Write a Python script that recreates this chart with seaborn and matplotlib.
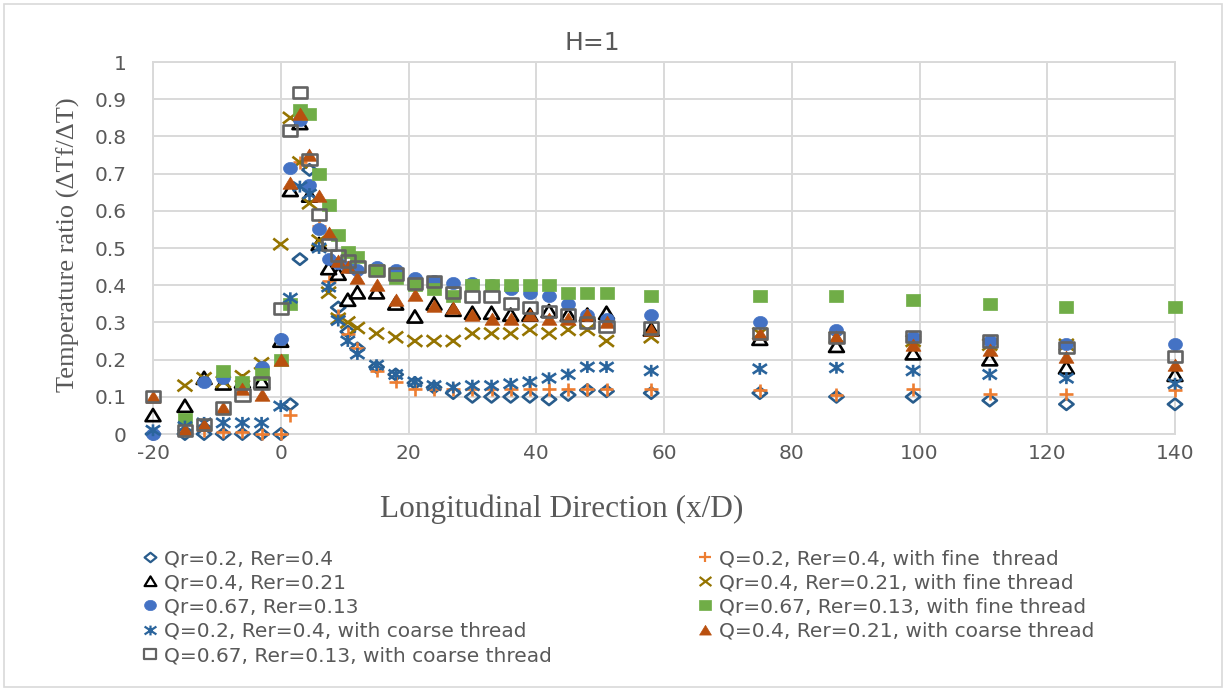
import numpy as np
import pandas as pd
import matplotlib
matplotlib.use("Agg")
import matplotlib.pyplot as plt
from matplotlib.path import Path
from matplotlib.lines import Line2D
from matplotlib.patches import Rectangle
import seaborn as sns

nan = np.nan

# ---------------- data ----------------
x_pos = [-20, -15, -12, -9, -6, -3, 0, 1.5, 3, 4.5, 6, 7.5, 9, 10.5, 12, 15, 18, 21, 24, 27,
         30, 33, 36, 39, 42, 45, 48, 51, 58, 75, 87, 99, 111, 123, 140]

qr02 = [0, 0, 0, 0, 0, 0, 0, 0.08, 0.47, 0.71, nan, nan, 0.34, 0.275, 0.23, 0.18, 0.16, 0.137, 0.125, 0.11,
        0.10, 0.10, 0.10, 0.10, 0.093, 0.105, 0.118, 0.115, 0.11, 0.11, 0.10, 0.10, 0.09, 0.08, 0.08]
q02_fine = [0, 0.01, 0.01, 0.005, 0.005, 0, 0, 0.05, 0.73, nan, 0.56, 0.41, 0.32, 0.27, 0.23, 0.17, 0.14, 0.12, 0.12, 0.12,
            0.12, 0.12, 0.12, 0.12, 0.12, 0.12, 0.12, 0.12, 0.12, 0.117, 0.106, 0.12, 0.108, 0.108, 0.117]
qr04 = [0.05, 0.075, 0.15, 0.135, 0.14, 0.14, 0.25, 0.655, 0.835, 0.64, 0.51, 0.445, 0.43, 0.36, 0.38, 0.38, 0.35, 0.315, 0.35, 0.333,
        0.325, 0.325, 0.32, 0.32, 0.33, 0.32, 0.32, 0.325, 0.28, 0.255, 0.236, 0.216, 0.20, 0.178, 0.158]
qr04_fine = [nan, 0.13, 0.15, 0.14, 0.155, 0.19, 0.51, 0.85, 0.73, 0.62, 0.52, 0.38, 0.31, 0.30, 0.285, 0.27, 0.26, 0.25, 0.25, 0.25,
             0.27, 0.27, 0.27, 0.28, 0.27, 0.28, 0.28, 0.25, 0.26, 0.27, 0.26, 0.25, 0.24, 0.24, nan]
qr067 = [0, nan, 0.14, 0.15, 0.13, 0.18, 0.255, 0.715, 0.845, 0.67, 0.55, 0.47, 0.46, 0.45, 0.44, 0.45, 0.44, 0.42, 0.41, 0.405,
         0.405, 0.40, 0.39, 0.38, 0.37, 0.35, 0.32, 0.31, 0.32, 0.30, 0.28, 0.26, 0.25, 0.243, 0.241]
qr067_fine = [nan, 0.04, nan, 0.17, 0.14, 0.16, 0.2, 0.35, 0.87, 0.86, 0.70, 0.615, 0.535, 0.49, 0.475, 0.44, 0.42, 0.40, 0.39, 0.37,
              0.40, 0.40, 0.40, 0.40, 0.40, 0.38, 0.38, 0.38, 0.37, 0.37, 0.37, 0.36, 0.35, 0.342, 0.342]
q02_coarse = [0.01, 0.02, 0.03, 0.03, 0.03, 0.03, 0.075, 0.365, 0.665, 0.645, 0.50, 0.395, 0.305, 0.25, 0.215, 0.185, 0.16, 0.14, 0.13, 0.125,
              0.13, 0.13, 0.135, 0.14, 0.15, 0.16, 0.18, 0.18, 0.17, 0.175, 0.178, 0.17, 0.16, 0.15, 0.135]
q04_coarse = [0.10, 0.01, 0.025, 0.07, 0.12, 0.105, 0.2, 0.675, 0.86, 0.75, 0.64, 0.54, 0.465, 0.45, 0.42, 0.40, 0.36, 0.375, 0.345, 0.34,
              0.32, 0.31, 0.31, 0.32, 0.31, 0.31, 0.32, 0.30, 0.28, 0.27, 0.26, 0.24, 0.227, 0.207, 0.185]
q067_coarse = [0.10, 0.01, 0.025, 0.07, 0.105, 0.137, 0.338, 0.817, 0.918, 0.737, 0.589, 0.51, 0.48, 0.465, 0.45, 0.44, 0.43, 0.405, 0.41, 0.38,
               0.37, 0.37, 0.35, 0.34, 0.33, 0.32, 0.30, 0.29, 0.285, 0.27, 0.26, 0.263, 0.25, 0.232, 0.209]

series_labels = [
    "Qr=0.2, Rer=0.4",
    "Q=0.2, Rer=0.4, with fine  thread",
    "Qr=0.4, Rer=0.21",
    "Qr=0.4, Rer=0.21, with fine thread",
    "Qr=0.67, Rer=0.13",
    "Qr=0.67, Rer=0.13, with fine thread",
    "Q=0.2, Rer=0.4, with coarse thread",
    "Q=0.4, Rer=0.21, with coarse thread",
    "Q=0.67, Rer=0.13, with coarse thread",
]
series_values = [qr02, q02_fine, qr04, qr04_fine, qr067, qr067_fine, q02_coarse, q04_coarse, q067_coarse]

x_ticks = [-20, 0, 20, 40, 60, 80, 100, 120, 140]
x_tick_labels = ["-20", "0", "20", "40", "60", "80", "100", "120", "140"]
y_ticks = [0, 0.1, 0.2, 0.3, 0.4, 0.5, 0.6, 0.7, 0.8, 0.9, 1.0]
y_tick_labels = ["0", "0.1", "0.2", "0.3", "0.4", "0.5", "0.6", "0.7", "0.8", "0.9", "1"]

title_text = "H=1"
x_label = "Longitudinal Direction (x/D)"
y_label = "Temperature ratio (\u0394Tf/\u0394T)"

# ---------------- marker shapes (slightly wide, like the stretched original) ----------------
def closed(pts, sx):
    pts = [(px * sx, py) for px, py in pts]
    pts = pts + [pts[0]]
    codes = [Path.MOVETO] + [Path.LINETO] * (len(pts) - 2) + [Path.CLOSEPOLY]
    return Path(pts, codes)

def segs(pairs, sx):
    v, c = [], []
    for (a, b) in pairs:
        v += [(a[0] * sx, a[1]), (b[0] * sx, b[1])]
        c += [Path.MOVETO, Path.LINETO]
    return Path(v, c)

th = np.linspace(0, 2 * np.pi, 40, endpoint=False)
m_diamond = closed([(0, 1), (1, 0), (0, -1), (-1, 0)], 1.25)
m_triangle = closed([(-1, -0.85), (1, -0.85), (0, 0.95)], 1.1)
m_circle = closed(list(zip(np.cos(th), np.sin(th))), 1.15)
m_square = closed([(-1, -0.9), (1, -0.9), (1, 0.9), (-1, 0.9)], 1.15)
m_plus = segs([((-1, 0), (1, 0)), ((0, -1), (0, 1))], 1.1)
m_x = segs([((-1, -1), (1, 1)), ((-1, 1), (1, -1))], 1.3)
m_star = segs([((-1, -0.8), (1, 0.8)), ((-1, 0.8), (1, -0.8)), ((0, -1), (0, 1))], 1.2)

styles = [
    dict(marker=m_diamond, fc="none", ec="#285C8C", lw=1.9, s=105),
    dict(marker=m_plus, fc="none", ec="#ED7D31", lw=1.9, s=100),
    dict(marker=m_triangle, fc="none", ec="#000000", lw=1.9, s=115),
    dict(marker=m_x, fc="none", ec="#957400", lw=1.9, s=115),
    dict(marker=m_circle, fc="#4472C4", ec="#4472C4", lw=0.5, s=100),
    dict(marker=m_square, fc="#70AD47", ec="#70AD47", lw=0.5, s=105),
    dict(marker=m_star, fc="none", ec="#2A649C", lw=1.9, s=105),
    dict(marker=m_triangle, fc="#B9500F", ec="#B9500F", lw=0.5, s=115),
    dict(marker=m_square, fc="none", ec="#636363", lw=1.9, s=105),
]

# ---------------- figure ----------------
sns.set_style("white")
plt.rcParams["font.family"] = ["DejaVu Sans"]
W, H = 1226, 691
fig = plt.figure(figsize=(W / 100, H / 100), dpi=100)
ax = fig.add_axes([153 / W, 1 - 434 / H, (1175 - 153) / W, (434 - 62) / H])

grid_c = "#D9D9D9"
text_c = "#595959"

for lab, vals, st in zip(series_labels, series_values, styles):
    df = pd.DataFrame({"x": x_pos, "y": vals}).dropna()
    sns.scatterplot(data=df, x="x", y="y", ax=ax, marker=st["marker"], s=st["s"],
                    facecolor=st["fc"], edgecolor=st["ec"], linewidth=st["lw"],
                    clip_on=False, zorder=3, legend=False)

ax.set_xlim(-20, 140)
ax.set_ylim(0, 1)
ax.set_xticks(x_ticks)
ax.set_xticklabels(x_tick_labels)
ax.set_yticks(y_ticks)
ax.set_yticklabels(y_tick_labels)
ax.grid(True, color=grid_c, linewidth=1.4, zorder=0)
ax.set_axisbelow(True)
for sp in ax.spines.values():
    sp.set_color(grid_c)
    sp.set_linewidth(1.4)
ax.tick_params(axis="both", length=0, colors=text_c, labelsize=14.5)
ax.tick_params(axis="y", pad=19)
ax.tick_params(axis="x", pad=7)
ax.set_xlabel("")
ax.set_ylabel("")

fig.text(592 / W, 1 - 43 / H, title_text, ha="center", va="center", fontsize=18, color=text_c)
fig.text(68 / W, 1 - 245 / H, y_label, rotation=90, ha="center", va="center", fontsize=19,
         color=text_c, family=["Liberation Serif", "DejaVu Serif"])
fig.text(562 / W, 1 - 509 / H, x_label, ha="center", va="center", fontsize=22.5,
         color=text_c, family=["Liberation Serif", "DejaVu Serif"])

# legend (Excel lays out row-major; matplotlib fills column-major)
handles = []
for lab, st in zip(series_labels, styles):
    handles.append(Line2D([], [], linestyle="none", marker=st["marker"], markersize=8.5,
                          markerfacecolor=st["fc"], markeredgecolor=st["ec"],
                          markeredgewidth=min(st["lw"], 1.6), label=lab))
order = [0, 2, 4, 6, 8, 1, 3, 5, 7]
leg = fig.legend([handles[i] for i in order], [series_labels[i] for i in order],
                 loc="upper left", bbox_to_anchor=(136 / W, 1 - 541 / H), ncol=2,
                 frameon=False, fontsize=14.5, labelcolor=text_c, handlelength=0.6,
                 handletextpad=0.4, columnspacing=7.3, labelspacing=0.26, borderaxespad=0)

fig.patches.append(Rectangle((4 / W, 4 / H), (W - 8) / W, (H - 8) / H, transform=fig.transFigure,
                             fill=False, edgecolor=grid_c, linewidth=1.2))

fig.savefig("out.png", dpi=100, facecolor="white")
